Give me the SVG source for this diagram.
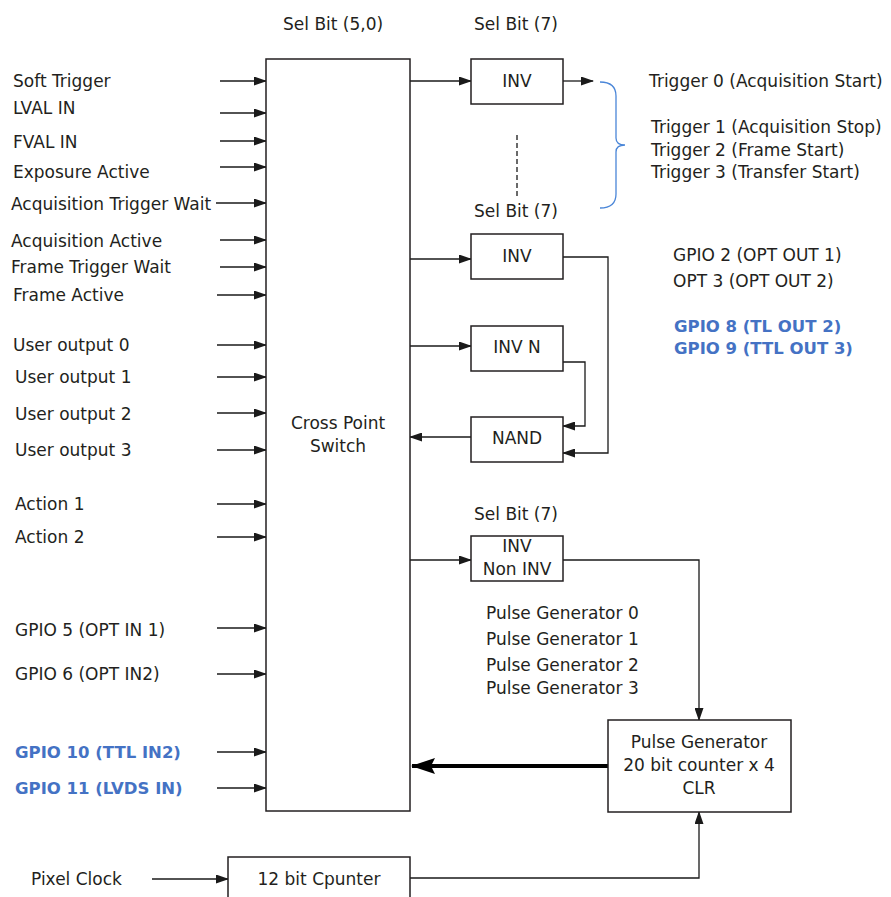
<svg xmlns="http://www.w3.org/2000/svg" width="891" height="897" viewBox="0 0 891 897">
<defs>
<marker id="ah" markerWidth="13" markerHeight="9" refX="12" refY="4.5" orient="auto" markerUnits="userSpaceOnUse"><path d="M0,0 L13,4.5 L0,9 z" fill="#1a1a1a"/></marker>
<marker id="ahb" markerWidth="24" markerHeight="16" refX="23" refY="8" orient="auto" markerUnits="userSpaceOnUse"><path d="M0,0 L24,8 L0,16 L4,8 z" fill="#000"/></marker>
</defs>
<style>
text{font-family:"DejaVu Sans","Liberation Sans",sans-serif;font-size:17px;fill:#231f20}
.b{fill:#4472c4;font-weight:bold;font-size:16.5px}
.m{text-anchor:middle}
.box{fill:#fff;stroke:#231f20;stroke-width:1.5}
.ln{fill:none;stroke:#1a1a1a;stroke-width:1.3}
.ar{fill:none;stroke:#1a1a1a;stroke-width:1.3;marker-end:url(#ah)}
</style>
<rect width="891" height="897" fill="#fff"/>

<g id="labels">
<text x="283" y="30">Sel Bit (5,0)</text>
<text x="474" y="30">Sel Bit (7)</text>
<text x="474" y="217">Sel Bit (7)</text>
<text x="474" y="520">Sel Bit (7)</text>
<text x="13" y="87">Soft Trigger</text>
<text x="13" y="114">LVAL IN</text>
<text x="13" y="148">FVAL IN</text>
<text x="13" y="178">Exposure Active</text>
<text x="11" y="210">Acquisition Trigger Wait</text>
<text x="11" y="247">Acquisition Active</text>
<text x="11" y="273">Frame Trigger Wait</text>
<text x="13" y="301">Frame Active</text>
<text x="13" y="351">User output 0</text>
<text x="15" y="383">User output 1</text>
<text x="15" y="420">User output 2</text>
<text x="15" y="456">User output 3</text>
<text x="15" y="510">Action 1</text>
<text x="15" y="543">Action 2</text>
<text x="15" y="636">GPIO 5 (OPT IN 1)</text>
<text x="15" y="680">GPIO 6 (OPT IN2)</text>
<text class="b" x="15" y="758">GPIO 10 (TTL IN2)</text>
<text class="b" x="15" y="794">GPIO 11 (LVDS IN)</text>
<text x="31" y="885">Pixel Clock</text>
<text x="649" y="87">Trigger 0 (Acquisition Start)</text>
<text x="651" y="133">Trigger 1 (Acquisition Stop)</text>
<text x="651" y="156">Trigger 2 (Frame Start)</text>
<text x="651" y="178">Trigger 3 (Transfer Start)</text>
<text x="673" y="261">GPIO 2 (OPT OUT 1)</text>
<text x="673" y="287">OPT 3 (OPT OUT 2)</text>
<text class="b" x="674" y="332">GPIO 8 (TL OUT 2)</text>
<text class="b" x="674" y="354">GPIO 9 (TTL OUT 3)</text>
<text x="486" y="619">Pulse Generator 0</text>
<text x="486" y="645">Pulse Generator 1</text>
<text x="486" y="671">Pulse Generator 2</text>
<text x="486" y="694">Pulse Generator 3</text>
</g>

<g id="connectors">
<line class="ar" x1="220" y1="81" x2="266" y2="81"/>
<line class="ar" x1="220" y1="113" x2="266" y2="113"/>
<line class="ar" x1="220" y1="141" x2="266" y2="141"/>
<line class="ar" x1="220" y1="167" x2="266" y2="167"/>
<line class="ar" x1="216" y1="203" x2="266" y2="203"/>
<line class="ar" x1="220" y1="240" x2="266" y2="240"/>
<line class="ar" x1="220" y1="267" x2="266" y2="267"/>
<line class="ar" x1="217" y1="295" x2="266" y2="295"/>
<line class="ar" x1="217" y1="345" x2="266" y2="345"/>
<line class="ar" x1="217" y1="377" x2="266" y2="377"/>
<line class="ar" x1="217" y1="413" x2="266" y2="413"/>
<line class="ar" x1="217" y1="450" x2="266" y2="450"/>
<line class="ar" x1="217" y1="504" x2="266" y2="504"/>
<line class="ar" x1="217" y1="537" x2="266" y2="537"/>
<line class="ar" x1="217" y1="628" x2="266" y2="628"/>
<line class="ar" x1="217" y1="674" x2="266" y2="674"/>
<line class="ar" x1="217" y1="752" x2="266" y2="752"/>
<line class="ar" x1="217" y1="788" x2="266" y2="788"/>
<line class="ar" x1="152" y1="879" x2="228" y2="879"/>
<line class="ar" x1="410" y1="81" x2="471" y2="81"/>
<line class="ar" x1="563" y1="81" x2="593" y2="81"/>
<line class="ln" x1="517" y1="135" x2="517" y2="197" stroke-dasharray="5,3"/>
<path d="M600,82 Q616,82 616,96 L616,138 Q616,145 625,145 Q616,145 616,152 L616,194 Q616,208 600,208" fill="none" stroke="#4a86d8" stroke-width="1.3"/>
<line class="ar" x1="410" y1="259" x2="471" y2="259"/>
<line class="ar" x1="410" y1="346" x2="471" y2="346"/>
<line class="ar" x1="471" y1="437" x2="410" y2="437"/>
<polyline class="ar" points="563,257 608,257 608,453 563,453"/>
<polyline class="ar" points="563,362 585,362 585,426 563,426"/>
<line class="ar" x1="410" y1="560" x2="471" y2="560"/>
<polyline class="ar" points="563,560 699,560 699,720"/>
<polyline class="ar" points="410,878 699,878 699,812"/>
<line x1="608" y1="766" x2="412" y2="766" stroke="#000" stroke-width="4" marker-end="url(#ahb)"/>
</g>

<g id="cross-point-switch">
<rect class="box" x="266" y="59" width="144" height="752"/>
<text class="m" x="338" y="429">Cross Point</text>
<text class="m" x="338" y="452">Switch</text>
</g>
<g id="inv-1">
<rect class="box" x="471" y="59" width="92" height="45"/>
<text class="m" x="517" y="87">INV</text>
</g>
<g id="inv-2">
<rect class="box" x="471" y="234" width="92" height="45"/>
<text class="m" x="517" y="262">INV</text>
</g>
<g id="inv-n">
<rect class="box" x="471" y="326" width="92" height="45"/>
<text class="m" x="517" y="353">INV N</text>
</g>
<g id="nand">
<rect class="box" x="471" y="417" width="92" height="45"/>
<text class="m" x="517" y="444">NAND</text>
</g>
<g id="inv-noninv">
<rect class="box" x="471" y="536" width="92" height="45"/>
<text class="m" x="517" y="552">INV</text>
<text class="m" x="517" y="575">Non INV</text>
</g>
<g id="pulse-generator">
<rect class="box" x="608" y="720" width="183" height="92"/>
<text class="m" x="699" y="748">Pulse Generator</text>
<text class="m" x="699" y="771">20 bit counter x 4</text>
<text class="m" x="699" y="794">CLR</text>
</g>
<g id="counter-12bit">
<rect class="box" x="228" y="857" width="182" height="50"/>
<text class="m" x="319" y="885">12 bit Cpunter</text>
</g>
</svg>
